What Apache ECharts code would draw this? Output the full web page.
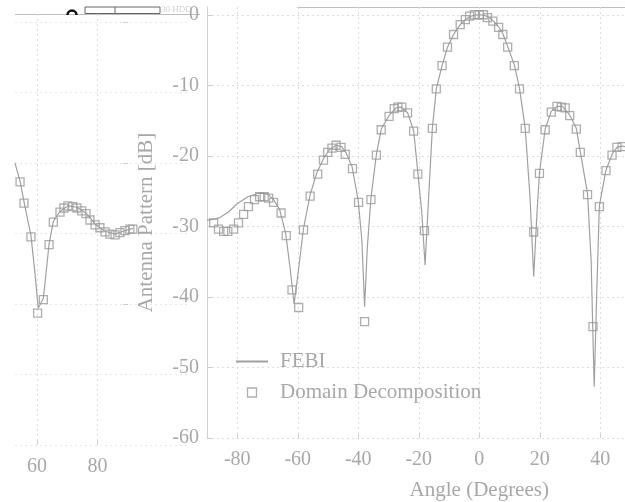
<!DOCTYPE html>
<html>
<head>
<meta charset="utf-8">
<script src="https://cdn.jsdelivr.net/npm/echarts@6/dist/echarts.min.js"></script>
<style>html,body{margin:0;padding:0;background:#fff;}#c{width:625px;height:502px;}</style>
</head>
<body>
<div id="c"></div>
<script>
// ---- data ----
const febiAngles = [-90,-88,-86,-83,-80,-76.5,-73,-70,-68,-66,-64,-62.5,-61.2,-60,-58.1,-55.9,-53.7,-51.5,-49.5,-47.3,-45.5,-44,-42,-40,-38.8,-37.9,-37,-35.8,-34,-32.4,-29.8,-27.5,-25.8,-23.7,-21.7,-20.3,-19,-17.9,-17,-15.5,-14.2,-12.3,-10.5,-8.5,-6.3,-4.6,-3,-1.5,0,1.5,3,4.5,6.4,7.8,9.4,11.6,13.3,15.2,16.8,18,19.1,19.9,21.8,23.8,25.7,27.5,29.9,32.1,33.4,35.8,37,37.5,38,38.8,39.7,41.9,43.9,45.5,47.2,49];
const febiValues = [-29.1,-29.0,-28.8,-28.0,-26.8,-25.8,-25.3,-25.4,-26.2,-27.6,-31.0,-36.0,-41.0,-37.0,-30.3,-25.5,-22.4,-20.4,-19.1,-18.5,-18.7,-19.6,-21.6,-26.4,-32.0,-41.4,-33.0,-26.0,-19.8,-16.2,-14.3,-13.2,-13.1,-13.9,-16.4,-22.4,-28.0,-35.5,-28.0,-16.1,-10.5,-7.2,-4.6,-2.8,-1.4,-0.7,-0.25,-0.05,0,-0.05,-0.3,-0.8,-1.7,-2.7,-4.5,-7.1,-10.4,-16.1,-26.0,-37.1,-28.0,-22.4,-16.2,-13.7,-13.0,-13.0,-14.2,-16.1,-19.4,-25.4,-35.0,-44.0,-52.7,-40.0,-27.1,-22.0,-19.8,-18.8,-18.6,-18.8];

const ddAngles = [-87.8,-86.2,-84.5,-83.1,-81.2,-79.6,-77.9,-76.3,-74.3,-72.6,-71.1,-69.6,-68,-65.5,-63.8,-61.9,-59.7,-58.1,-55.9,-53.4,-51.5,-50.1,-48.7,-47.3,-45.7,-44.3,-41.9,-39.9,-37.9,-35.8,-34.0,-32.4,-29.8,-28.1,-26.9,-25.6,-23.7,-21.7,-20.3,-18.1,-15.5,-14.2,-12.3,-10.5,-8.5,-6.3,-4.6,-3.2,-1.6,0,1.4,2.7,4.5,6.4,7.8,9.4,11.6,13.3,15.2,18.0,19.9,21.8,23.8,25.7,27.1,28.4,29.9,32.1,33.4,35.8,37.6,39.7,41.9,43.9,45.5,47.2];
const ddValues = [-29.5,-30.4,-30.7,-30.7,-30.4,-29.5,-28.3,-27.2,-26.2,-25.8,-25.8,-26.0,-26.6,-28.1,-31.3,-39.0,-41.5,-30.5,-25.7,-22.6,-20.6,-19.5,-18.9,-18.5,-18.8,-19.8,-21.8,-26.6,-43.5,-26.2,-19.9,-16.3,-14.4,-13.3,-13.1,-13.1,-13.9,-16.5,-22.6,-30.6,-16.1,-10.5,-7.2,-4.6,-2.8,-1.4,-0.7,-0.2,0,0,0,-0.4,-0.9,-1.8,-2.8,-4.6,-7.2,-10.5,-16.1,-30.8,-22.5,-16.3,-13.8,-13.0,-13.1,-13.2,-14.3,-16.2,-19.5,-25.5,-44.2,-27.2,-22.1,-19.9,-18.8,-18.7];

// continuation panel (wide angles)
const febiWideAngles = [52.7,54.4,55.7,58,59.3,60.4,62.1,64,65.4,67.6,70.2,73.2,76.2,79.2,82.5,85.8,88.5,91.7];
const febiWideValues = [-20.0,-22.6,-25.5,-30.3,-35.5,-40.6,-39.2,-31.5,-28.3,-26.9,-26.1,-26.3,-27.1,-28.7,-29.7,-30.1,-29.7,-29.3];
const ddWideAngles = [54.4,55.7,58.0,60.2,62.1,64.0,65.4,67.6,68.9,70.2,71.8,73.2,74.8,76.2,77.5,79.2,80.8,82.5,84.1,85.8,87.4,89.1,90.7,91.7];
const ddWideValues = [-22.7,-25.7,-30.5,-41.3,-39.4,-31.6,-28.4,-27.0,-26.4,-26.1,-26.2,-26.4,-26.8,-27.2,-28.1,-28.8,-29.2,-29.8,-30.1,-30.2,-29.9,-29.6,-29.4,-29.4];

const xTicksMain = [-80,-60,-40,-20,0,20,40,60,80];
const xTicksWide = [60,80];
const yTicks = [-60,-50,-40,-30,-20,-10,0];
const seriesNames = ['FEBI','Domain Decomposition'];
const xTitle = 'Angle (Degrees)';
const yTitle = 'Antenna Pattern [dB]';

const zip = (a,b) => a.map((v,i)=>[v,b[i]]);

const FONT = 'Liberation Serif';
const TXT = '#a8a8a8';
const LINE = '#a0a0a0';
const MARK = '#9a9a9a';
const GRIDC = '#dcdcdc';
const CLEAR = 'rgba(255,255,255,0)';

const chart = echarts.init(document.getElementById('c'), null, {renderer:'canvas'});
chart.setOption({
  animation:false,
  backgroundColor:'#fff',
  grid:[
    {left:207, top:7, width:544.5, height:431, outerBoundsMode:'none', containLabel:false},
    {left:15, top:14, width:175, height:431, outerBoundsMode:'none', containLabel:false}
  ],
  xAxis:[
    {type:'value', gridIndex:0, min:-90, max:90,
     name:xTitle, nameLocation:'middle', nameGap:42,
     nameTextStyle:{color:TXT, fontSize:21, fontFamily:FONT},
     axisLine:{show:false, onZero:false},
     axisTick:{show:true, inside:true, length:4, lineStyle:{color:'#cfcfcf'}, customValues:xTicksMain},
     axisLabel:{color:TXT, fontSize:20, fontFamily:FONT, margin:12, customValues:xTicksMain},
     splitLine:{show:true, lineStyle:{color:GRIDC, type:[2,3], width:1}}},
    {type:'value', gridIndex:1, min:52.73, max:110.58,
     axisLine:{show:false, onZero:false},
     axisTick:{show:true, inside:true, length:4, lineStyle:{color:'#cfcfcf'}, customValues:xTicksWide},
     axisLabel:{color:TXT, fontSize:20, fontFamily:FONT, margin:12, customValues:xTicksWide},
     splitLine:{show:true, lineStyle:{color:GRIDC, type:[2,3], width:1}}}
  ],
  yAxis:[
    {type:'value', gridIndex:0, min:-60, max:1.1,
     name:yTitle, nameLocation:'middle', nameGap:50,
     nameTextStyle:{color:TXT, fontSize:21, fontFamily:FONT},
     axisLine:{show:true, onZero:false, lineStyle:{color:'#d0d0d0'}},
     axisTick:{show:true, inside:true, length:5, lineStyle:{color:'#cfcfcf'}, customValues:yTicks},
     axisLabel:{color:TXT, fontSize:20, fontFamily:FONT, margin:8, customValues:yTicks},
     splitLine:{show:true, lineStyle:{color:GRIDC, type:[2,3], width:1}}},
    {type:'value', gridIndex:1, min:-60, max:1.1,
     axisLine:{show:false, onZero:false},
     axisTick:{show:false, customValues:yTicks},
     axisLabel:{show:false, customValues:yTicks},
     splitLine:{show:true, lineStyle:{color:'#e6e6e6', type:[2,3], width:1}}},
    {type:'value', gridIndex:1, min:-60, max:1.1, position:'right', offset:-62,
     axisLine:{show:false, onZero:false},
     axisTick:{show:true, inside:true, length:5, lineStyle:{color:'#cfcfcf'}, customValues:[0,-20,-40]},
     axisLabel:{show:false, customValues:[0,-20,-40]},
     splitLine:{show:false}}
  ],
  legend:{
    data:[
      {name:seriesNames[0], itemStyle:{color:CLEAR, borderColor:CLEAR, borderWidth:0}},
      {name:seriesNames[1], icon:'path://M0,0L10,0L10,10L0,10Z', itemStyle:{color:CLEAR, borderColor:MARK, borderWidth:1.3}}
    ],
    orient:'vertical', left:235, top:351, padding:0,
    itemWidth:32, itemHeight:9, itemGap:10, symbolKeepAspect:true,
    textStyle:{color:TXT, fontSize:21, fontFamily:FONT, padding:[0,0,0,7]}
  },
  graphic:[
    {type:'line', shape:{x1:297, y1:7.5, x2:625, y2:7.5}, style:{stroke:'#bdbdbd', lineWidth:1}, silent:true},
    {type:'line', shape:{x1:15, y1:14.5, x2:200, y2:14.5}, style:{stroke:'#bdbdbd', lineWidth:1}, silent:true},
    {type:'rect', shape:{x:85, y:7, width:75, height:6.5}, style:{fill:'#fff', stroke:'#666', lineWidth:1}, silent:true},
    {type:'line', shape:{x1:115, y1:7, x2:115, y2:13.5}, style:{stroke:'#666', lineWidth:1}, silent:true},
    {type:'arc', shape:{cx:72, cy:15, r:4.5, startAngle:Math.PI, endAngle:Math.PI*2}, style:{stroke:'#111', lineWidth:2.5, fill:null}, silent:true},
    {type:'text', x:161, y:5, style:{text:'30 HDD', fill:'#cfcfcf', fontSize:9, fontFamily:FONT}, silent:true}
  ],
  series:[
    {name:seriesNames[0], type:'line', xAxisIndex:0, yAxisIndex:0, data:zip(febiAngles,febiValues),
     symbol:'none', lineStyle:{color:LINE, width:1.2}, itemStyle:{color:LINE}, z:2},
    {name:seriesNames[1], type:'scatter', xAxisIndex:0, yAxisIndex:0, data:zip(ddAngles,ddValues),
     symbol:'rect', symbolSize:8,
     itemStyle:{color:CLEAR, borderColor:MARK, borderWidth:1.3}, z:3},
    {name:seriesNames[0], type:'line', xAxisIndex:1, yAxisIndex:1, data:zip(febiWideAngles,febiWideValues),
     symbol:'none', lineStyle:{color:LINE, width:1.2}, itemStyle:{color:LINE}, z:2},
    {name:seriesNames[1], type:'scatter', xAxisIndex:1, yAxisIndex:1, data:zip(ddWideAngles,ddWideValues),
     symbol:'rect', symbolSize:8,
     itemStyle:{color:CLEAR, borderColor:MARK, borderWidth:1.3}, z:3}
  ]
});
</script>
</body>
</html>
